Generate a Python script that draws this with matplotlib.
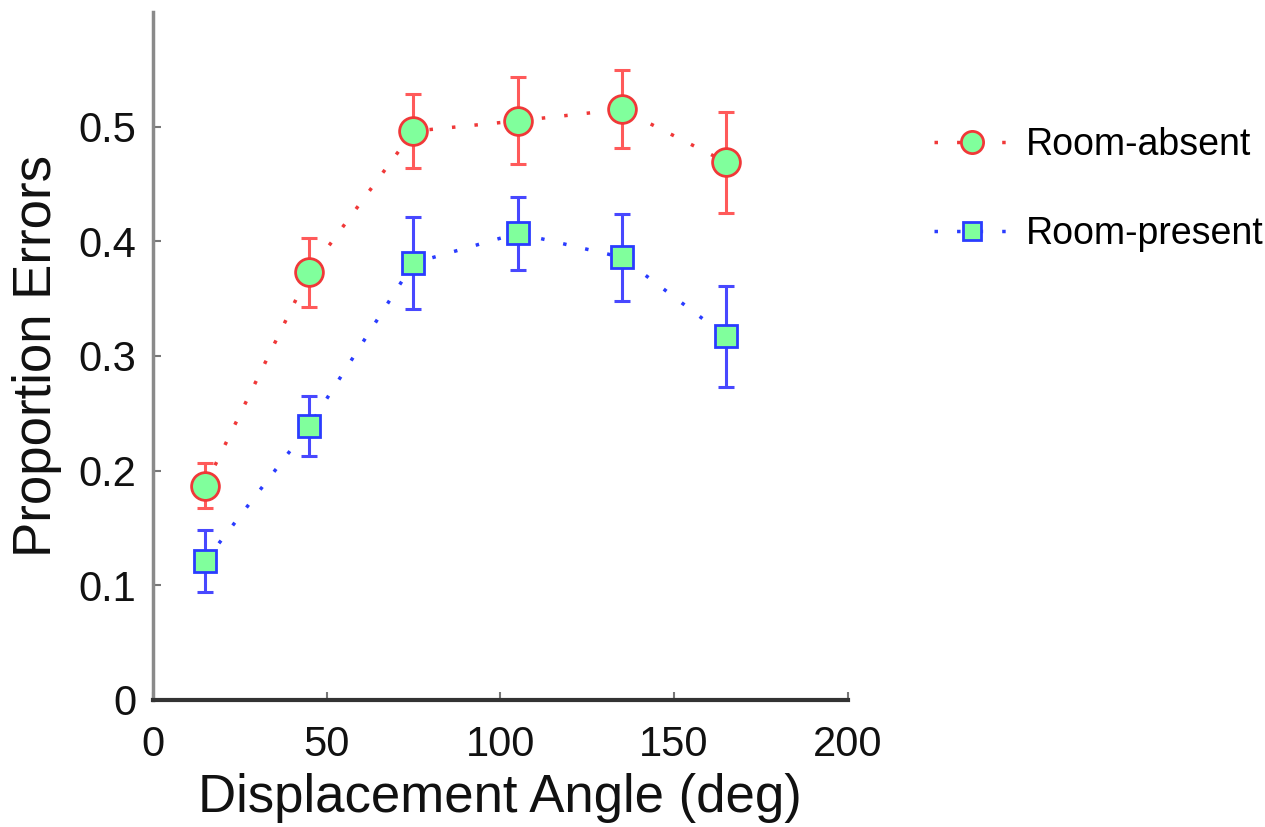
import matplotlib
matplotlib.use("Agg")
import matplotlib.pyplot as plt

# data
angles = [15, 45, 75, 105, 135, 165]
absent_mean = [0.187, 0.373, 0.496, 0.505, 0.515, 0.469]
absent_err = [0.020, 0.030, 0.032, 0.038, 0.034, 0.044]
present_mean = [0.121, 0.239, 0.381, 0.407, 0.386, 0.317]
present_err = [0.027, 0.026, 0.040, 0.032, 0.038, 0.044]

plt.rcParams["font.family"] = ["Liberation Sans", "DejaVu Sans"]

fig = plt.figure(figsize=(12.65, 8.27), dpi=100)
ax = fig.add_axes([0.121, 0.1536, 0.549, 0.832])

face = "#80ff9c"
red_edge = "#f03838"
red_err = "#ff5a5a"
blue_edge = "#2a3cff"
blue_err = "#4848ff"

ax.errorbar(angles, absent_mean, yerr=absent_err, fmt="none",
            ecolor=red_err, elinewidth=2.2, capsize=6, capthick=2.2, zorder=2)
ax.errorbar(angles, present_mean, yerr=present_err, fmt="none",
            ecolor=blue_err, elinewidth=2.2, capsize=6, capthick=2.2, zorder=2)

ax.plot(angles, absent_mean, linestyle=(0, (1, 5.5)), linewidth=2.5,
        color=red_edge, marker="o", markersize=20, markerfacecolor=face,
        markeredgecolor=red_edge, markeredgewidth=2, label="Room-absent",
        zorder=3)
ax.plot(angles, present_mean, linestyle=(0, (1, 5.5)), linewidth=2.5,
        color=blue_edge, marker="s", markersize=16, markerfacecolor=face,
        markeredgecolor=blue_edge, markeredgewidth=2, label="Room-present",
        zorder=3)

ax.set_xlim(0, 200)
ax.set_ylim(0, 0.6)
ax.set_xticks([0, 50, 100, 150, 200])
ax.set_yticks([0, 0.1, 0.2, 0.3, 0.4, 0.5])
ax.set_yticklabels(["0", "0.1", "0.2", "0.3", "0.4", "0.5"])
ax.tick_params(direction="in", length=6, width=1.5, labelsize=30, pad=12,
               color="#777777", labelcolor="#111111")
ax.tick_params(axis="x", pad=18)

ax.spines["top"].set_visible(False)
ax.spines["right"].set_visible(False)
ax.spines["left"].set_color("#8a8a8a")
ax.spines["left"].set_linewidth(2.5)
ax.spines["bottom"].set_color("#333333")
ax.spines["bottom"].set_linewidth(3)

ax.set_xlabel("Displacement Angle (deg)", fontsize=38, color="#111111", labelpad=6)
ax.set_ylabel("Proportion Errors", fontsize=38, color="#111111", labelpad=12)

fig.legend(loc="upper left", bbox_to_anchor=(0.712, 0.887), frameon=False,
           fontsize=27, handlelength=2.0, labelspacing=1.4, handletextpad=0.45,
           markerscale=0.8)

fig.savefig("out.png", dpi=100, facecolor="white")
